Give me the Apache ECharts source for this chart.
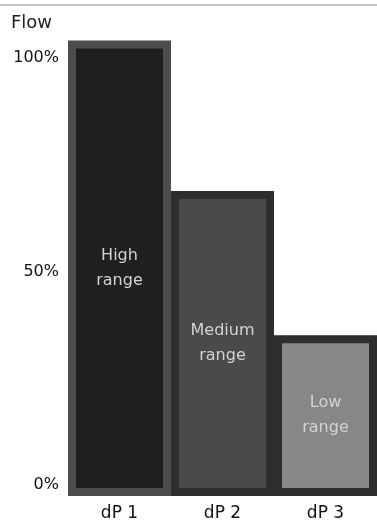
<!DOCTYPE html>
<html>
<head>
<meta charset="utf-8">
<script src="https://cdn.jsdelivr.net/npm/echarts@6/dist/echarts.min.js"></script>
<style>
  html, body { margin: 0; padding: 0; background: #fff; }
  #main { width: 377px; height: 526px; }
</style>
</head>
<body>
<div id="main"></div>
<script>
var categories = ['dP 1', 'dP 2', 'dP 3']
var flowValues = [106.6, 71.4, 37.6]
var rangeNames = ['High\nrange', 'Medium\nrange', 'Low\nrange']
var fillColors = ['#1f1f1f', '#4a4a4a', '#878787']
var edgeColors = ['#4d4d4d', '#2e2e2e', '#2e2e2e']

var barData = []
for (var i = 0; i < categories.length; i++) {
    barData.push({
        value: flowValues[i],
        itemStyle: { color: fillColors[i], borderColor: edgeColors[i] },
        label: { formatter: rangeNames[i] }
    })
}

var mCharts = echarts.init(document.getElementById('main'))
var option = {
    animation: false,
    textStyle: { fontFamily: 'DejaVu Sans' },
    graphic: [
        { type: 'line', shape: { x1: 0, y1: 5, x2: 377, y2: 5 }, style: { stroke: '#c6c6c6', lineWidth: 2 } },
        { type: 'text', left: 11, top: 14, style: { text: 'Flow', fontSize: 18, fill: '#222', fontFamily: 'DejaVu Sans' } }
    ],
    grid: { left: 68, top: 26, bottom: 30, width: 310 },
    xAxis: {
        type: 'category',
        data: categories,
        axisLine: { show: false },
        axisTick: { show: false },
        axisLabel: { color: '#111', fontSize: 17, margin: 9 }
    },
    yAxis: {
        type: 'value',
        min: 0,
        max: 110,
        interval: 50,
        splitLine: { show: false },
        axisLine: { show: false },
        axisTick: { show: false },
        axisLabel: {
            color: '#111',
            fontSize: 16,
            margin: 9,
            showMaxLabel: false,
            verticalAlign: 'bottom',
            lineHeight: 22,
            formatter: '{value}%'
        }
    },
    series: [
        {
            type: 'bar',
            data: barData,
            barCategoryGap: '0%',
            itemStyle: { borderWidth: 8 },
            label: {
                show: true,
                position: 'inside',
                color: '#d2d2d2',
                fontSize: 16,
                lineHeight: 25
            }
        }
    ]
}
mCharts.setOption(option)
</script>
</body>
</html>
